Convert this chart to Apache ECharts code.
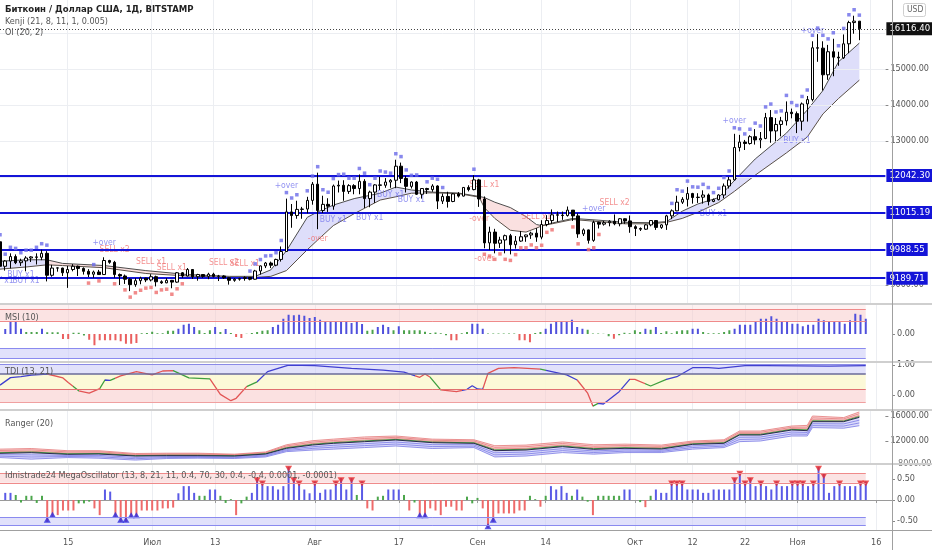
<!DOCTYPE html>
<html><head><meta charset="utf-8">
<script src="https://cdn.jsdelivr.net/npm/echarts@6.0.0/dist/echarts.min.js"></script>
<style>html,body{margin:0;padding:0;background:#fff;overflow:hidden}#chart{width:932px;height:550px}</style>
</head><body><div id="chart"></div>
<script>
// ---------- DATA ----------
const categories = [];
(function(){const s=Date.UTC(2020,5,2);for(let i=0;i<171;i++){categories.push(new Date(s+i*86400000).toISOString().slice(0,10));}})();
const xTickIdx  = [13,29,41,60,76,91,104,121,132,142,152,167];
const xTickText = ['15','Июл','13','Авг','17','Сен','14','Окт','12','22','Ноя','16'];

// [open, high, low, close]
const ohlc = [
[10200,10230,9280,9520],[9520,9690,9400,9665],[9665,9880,9460,9790],[9790,9850,9580,9620],[9620,9730,9530,9670],
[9670,9800,9380,9750],[9750,9800,9640,9780],[9780,9880,9570,9770],[9770,9980,9690,9880],[9880,9940,9100,9270],
[9270,9560,9230,9470],[9470,9490,9370,9475],[9470,9480,9250,9340],[9340,9530,8920,9430],[9430,9580,9380,9520],
[9520,9540,9250,9460],[9460,9490,9290,9380],[9380,9440,9220,9300],[9300,9400,9200,9360],[9360,9420,9280,9290],
[9290,9770,9280,9680],[9680,9700,9590,9630],[9630,9670,9200,9290],[9290,9320,9000,9250],[9250,9290,9030,9160],
[9160,9190,8830,9010],[9010,9190,8950,9120],[9120,9230,9020,9190],[9190,9200,9080,9140],[9140,9300,9100,9230],
[9230,9260,8960,9090],[9090,9130,9030,9060],[9060,9190,9050,9130],[9130,9140,8910,9080],[9080,9360,9060,9340],
[9340,9360,9200,9250],[9250,9470,9240,9430],[9430,9440,9170,9230],[9230,9310,9120,9290],[9290,9300,9200,9240],
[9240,9340,9160,9300],[9300,9340,9210,9240],[9240,9280,9110,9250],[9250,9270,9170,9200],[9200,9210,9010,9130],
[9130,9190,9090,9160],[9160,9200,9120,9180],[9180,9240,9120,9210],[9210,9220,9130,9160],[9160,9420,9150,9390],
[9390,9540,9290,9530],[9530,9640,9470,9610],[9610,9650,9470,9550],[9550,9730,9520,9710],[9710,10070,9650,9930],
[9930,11400,9920,11030],[11030,11250,10590,10930],[10930,11340,10840,11100],[11100,11170,10840,11110],[11110,11450,10990,11350],
[11350,11860,11230,11800],[11800,12120,10550,11070],[11070,11480,11000,11240],[11240,11410,11030,11190],[11190,11790,11090,11750],
[11750,11900,11570,11770],[11770,11910,11340,11600],[11600,11800,11530,11760],[11760,11800,11520,11680],[11680,12070,11520,11880],
[11880,11940,11140,11400],[11400,11620,11160,11580],[11580,11800,11280,11780],[11780,12000,11640,11770],[11770,11970,11700,11860],
[11860,11940,11700,11910],[11910,12480,11690,12300],[12300,12400,11830,11960],[11960,12030,11570,11740],[11740,11880,11680,11860],
[11860,11890,11500,11520],[11520,11690,11400,11680],[11680,11700,11530,11650],[11650,11800,11590,11750],[11750,11770,11110,11330],
[11330,11540,11250,11460],[11460,11590,11150,11320],[11320,11550,11300,11530],[11530,11580,11430,11470],[11470,11720,11460,11710],
[11710,11770,11600,11650],[11650,12050,11630,11920],[11920,11950,11170,11390],[11390,11460,10020,10170],[10170,10620,9970,10470],
[10470,10560,9880,10160],[10160,10340,10030,10250],[10250,10400,9880,10370],[10370,10420,9850,10120],[10120,10360,10010,10220],
[10220,10500,10200,10340],[10340,10400,10200,10390],[10390,10480,10280,10440],[10440,10580,10200,10330],[10330,10800,10270,10680],
[10680,10940,10630,10790],[10790,11100,10700,10950],[10950,11040,10750,10940],[10940,11040,10810,10930],[10930,11180,10900,11080],
[11080,11080,10780,10920],[10920,10990,10310,10420],[10420,10570,10360,10530],[10530,10540,10150,10240],[10240,10790,10200,10740],
[10740,10760,10570,10690],[10690,10780,10650,10730],[10730,10800,10630,10770],[10770,10960,10660,10700],[10700,10860,10630,10840],
[10840,10850,10700,10780],[10780,10930,10450,10620],[10620,10660,10360,10570],[10570,10600,10500,10550],[10550,10690,10530,10670],
[10670,10800,10630,10790],[10790,10800,10530,10600],[10600,10690,10560,10670],[10670,10950,10530,10920],[10920,11100,10830,11060],
[11060,11480,11050,11300],[11300,11440,11250,11380],[11380,11720,11180,11540],[11540,11560,11260,11430],[11430,11550,11280,11440],
[11440,11630,11260,11500],[11500,11540,11210,11320],[11320,11400,11300,11370],[11370,11520,11350,11500],[11500,11820,11410,11750],
[11750,12000,11680,11920],[11920,13200,11900,12820],[12820,13170,12710,12970],[12970,13030,12750,12930],[12930,13160,12900,13120],
[13120,13330,12900,13030],[13030,13250,12800,13070],[13070,13780,13050,13650],[13650,13860,12950,13280],[13280,13640,12990,13460],
[13460,13670,13130,13560],[13560,14100,13430,13800],[13800,13900,13630,13760],[13760,13820,13220,13550],[13550,14070,13290,14030],
[14030,14250,13540,14150],[14150,15770,14100,15590],[15590,15970,15200,15580],[15580,15770,14400,14840],[14840,15670,14700,15480],
[15480,15840,14800,15330],[15330,15480,15090,15310],[15310,15960,15280,15700],[15700,16340,15440,16290],[16290,16480,15980,16330],
[16330,16330,15800,16116.4]
];
const levelValues = [12042.30, 11015.19, 9988.55, 9189.71];
const lastPrice = 16116.40;
const priceTicks = [9000, 13000, 14000, 15000];

const kenjiIdx = [0,5,9,12,20,28,36,44,49,52,55,59,61,64,68,73,76,79,83,88,92,93,95,98,101,103,104,106,110,115,120,125,128,131,134,138,141,145,151,155,158,161,165];
const kenjiUp  = [9660,9700,9700,9600,9540,9400,9290,9240,9240,9420,9950,10880,11030,11220,11400,11550,11720,11640,11580,11555,11460,11430,11300,11150,10900,10680,10650,10720,10850,10800,10740,10730,10760,11050,11250,11430,11900,12500,13220,13860,14400,15200,15720];
const kenjiLo  = [9440,9500,9560,9540,9480,9320,9250,9210,9210,9240,9400,9980,10250,10650,10980,11360,11450,11550,11560,11540,11440,11150,10850,10520,10470,10580,10640,10700,10820,10760,10700,10700,10740,10850,11020,11290,11600,12050,12670,13110,13750,14180,14690];
const kenjiSegments = [[0,9,'bull'],[9,49,'bear'],[49,92,'bull'],[92,104,'bear'],[104,128,'flat'],[128,165,'bull']];

const upMarks = [0,1,2,3,4,5,6,7,8,9,18,48,49,50,51,52,53,54,55,56,57,59,60,61,62,63,64,65,66,67,68,69,70,71,72,73,74,75,76,77,78,79,80,82,83,84,85,91,129,130,131,132,133,134,135,136,137,138,139,140,141,142,143,144,145,146,147,148,149,150,151,152,153,154,155,156,157,158,159,160,161,162,163,164,165];
const downMarks = [17,19,22,24,25,26,27,28,29,30,31,32,33,34,35,93,94,95,96,97,98,99,100,101,102,103,104,105,106,110,111,113,114,115];

// [dayIndex, price, text, side]
const signals = [
 [0,9111,'BUY x1','b'],[5,9111,'BUY x1','b'],[4,9278,'BUY x1','b'],[20,10167,'+over','b'],
 [22,9972,'SELL x2','r'],[29,9639,'SELL x1','r'],[33,9472,'SELL x1','r'],[43,9611,'SELL x2','r'],[47,9583,'SELL x1','r'],
 [55,11750,'+over','b'],[61,10278,'-over','r'],[64,10806,'BUY x1','b'],[71,10861,'BUY x1','b'],[75,11500,'BUY x1','b'],[79,11361,'BUY x1','b'],
 [93,11778,'SELL x1','r'],[92,10833,'-over','r'],[93,9722,'-over','r'],[103,10889,'SELL x1','r'],
 [114,11111,'+over','b'],[118,11278,'SELL x2','r'],[137,10972,'BUY x1','b'],[141,13556,'+over','b'],[153,13000,'BUY x1','b'],[156,16056,'+over','b']
];

const msi = [null,0.2,0.51,0.48,0.21,0.08,0.08,0.08,0.21,0.07,
0.07,0.07,-0.2,-0.2,0.05,0.05,-0.06,-0.23,-0.45,-0.25,
-0.25,-0.25,-0.25,-0.29,-0.39,-0.39,-0.36,0.03,0.04,0.09,
0.03,0.03,0.13,0.13,0.21,0.37,0.41,0.28,0.15,0.04,
0.15,0.28,0.08,0.2,0.04,-0.12,-0.16,0.01,0.04,0.08,
0.13,0.15,0.28,0.37,0.61,0.77,0.75,0.77,0.73,0.64,
0.68,0.57,0.51,0.51,0.51,0.51,0.51,0.44,0.51,0.4,
0.13,0.17,0.28,0.37,0.28,0.15,0.31,0.15,0.15,0.15,
0.15,0.09,0.04,0.06,0.03,-0.05,-0.25,-0.25,0.03,0.08,
0.41,0.41,0.21,0.02,0.02,0.02,0.02,0.02,0.02,-0.25,
-0.25,-0.33,0.04,0.08,0.21,0.41,0.48,0.48,0.48,0.57,
0.28,0.21,0.17,0.02,0.02,0.01,-0.09,-0.19,-0.05,0.05,
0.03,0.15,0.08,0.21,0.17,0.28,0.04,0.11,0.03,0.11,
0.15,0.15,0.21,0.21,0.08,0.03,0.03,0.03,0.08,0.15,
0.21,0.37,0.37,0.37,0.48,0.61,0.61,0.71,0.61,0.48,
0.48,0.41,0.41,0.31,0.37,0.37,0.61,0.55,0.48,0.48,
0.48,0.41,0.55,0.81,0.77,0.61];

const tdiIdx = [0,2,4,6,9,12,13,15,17,19,20,21,23,26,29,31,33,36,40,42,44,45,47,49,51,55,60,67,73,77,80,81,82,84,87,89,90,91,92,93,95,98,103,108,110,112,113,114,115,118,120,121,124,127,129,132,135,137,142,146,152,158,165];
const tdiVal = [0.33,0.58,0.61,0.66,0.7,0.57,0.42,0.14,0.06,0.21,0.5,0.49,0.64,0.78,0.67,0.8,0.81,0.57,0.54,0.02,-0.19,-0.11,0.28,0.44,0.78,1.0,0.98,0.89,0.83,0.76,0.59,0.7,0.59,0.17,0.11,0.19,0.31,0.2,0.19,0.72,0.89,0.91,0.86,0.67,0.5,0.06,-0.37,-0.28,-0.3,0.11,0.52,0.52,0.3,0.52,0.61,0.91,0.91,0.89,0.98,0.98,0.97,0.96,0.98];
const tdiColorRuns = [[0,9,'b'],[9,14,'r'],[14,15,'g'],[15,19,'r'],[19,20,'g'],[20,21,'b'],[21,22,'g'],[22,33,'r'],[33,40,'g'],[40,47,'r'],[47,49,'g'],[49,79,'b'],[79,82,'r'],[82,84,'g'],[84,88,'r'],[88,92,'b'],[92,103,'r'],[103,104,'g'],[104,110,'b'],[110,113,'r'],[113,114,'g'],[114,120,'b'],[120,123,'r'],[123,127,'g'],[127,171,'b']];

const rangerIdx = [0,6,13,19,26,32,38,45,51,55,60,64,70,76,83,91,95,101,108,114,120,127,133,139,142,146,152,155,156,162,165];
const rangerUp  = [10700,10800,10450,10450,10000,10050,10050,9900,10250,11400,12050,12300,12650,12800,12300,12200,11250,11350,11850,11400,11500,11350,12000,12200,13600,13600,14400,14500,16000,15750,16650];
const rangerMid = [10027,10133,9867,9920,9600,9653,9653,9600,9920,10827,11360,11627,11893,12160,11733,11627,10453,10560,11093,10667,10827,10720,11467,11627,12960,12960,13760,13653,15093,15093,15787];
const rangerLo  = [9350,9100,9350,9250,8950,9200,9250,9200,9450,10300,10550,10700,10950,11200,10800,10950,9450,9600,10150,9900,10150,10150,10700,10950,11900,12000,12800,12800,14150,14050,14450];

const mega = [null,0.17,0.17,0.12,-0.06,0.1,0.1,-0.07,0.1,-0.52,
-0.4,-0.36,-0.25,-0.25,-0.25,-0.08,-0.08,-0.04,-0.2,-0.36,
0.25,0.2,-0.4,-0.52,-0.52,-0.41,-0.41,-0.25,-0.25,-0.25,
-0.25,-0.2,-0.2,-0.18,0.16,0.33,0.33,0.17,0.1,0.1,
0.25,0.25,0.1,-0.07,0.02,-0.36,-0.08,0.08,0.17,0.52,
0.44,0.33,0.33,0.25,0.33,0.79,0.52,0.44,0.25,0.16,
0.44,0.17,0.25,0.25,0.44,0.52,0.25,0.52,0.12,0.44,
-0.2,-0.25,0.08,0.1,0.25,0.25,0.25,0.12,-0.25,-0.06,
-0.41,-0.41,-0.2,-0.25,-0.36,-0.16,-0.16,-0.25,-0.25,0.08,
-0.08,0.05,-0.2,-0.67,-0.52,-0.32,-0.32,-0.32,-0.32,-0.25,
-0.25,0.1,0.02,-0.16,0.1,0.33,0.25,0.33,0.17,0.1,
0.25,0.08,-0.04,-0.36,0.1,0.1,0.1,0.1,0.1,0.25,
0.25,0.0,-0.05,-0.17,0.1,0.25,0.17,0.17,0.44,0.44,
0.44,0.25,0.25,0.25,0.17,0.17,0.25,0.25,0.25,0.25,
0.52,0.67,0.44,0.52,0.33,0.44,0.33,0.25,0.44,0.33,
0.33,0.44,0.44,0.44,0.33,0.44,0.79,0.62,0.17,0.33,
0.44,0.33,0.33,0.33,0.44,0.44];

// ---------- STYLE ----------
const FONT = '"Liberation Sans Narrow","DejaVu Sans Condensed",Roboto,sans-serif';
const BLUE_LVL = '#1414d8';
const C = {b:'#4040d0', r:'#e25555', g:'#3f9f3f'};
const lastIdx = ohlc.length - 1;
const grids = [
  {left:0, width:892, top:0, height:304},
  {left:0, width:892, top:305, height:56},
  {left:0, width:892, top:363, height:46},
  {left:0, width:892, top:411, height:52},
  {left:0, width:892, top:465, height:65}
];
const tickShow = (idx) => xTickIdx.indexOf(idx) >= 0;
const xAxes = grids.map((g, k) => ({
  type:'category', gridIndex:k, data:categories, boundaryGap:false,
  axisLine:{show:k===4, lineStyle:{color:'#9a9a9a'}},
  axisTick:{show:k===4, interval:tickShow, length:3, lineStyle:{color:'#9a9a9a'}},
  axisLabel:{show:k===4, interval:tickShow, color:'#555', fontSize:9, fontFamily:FONT, margin:8,
    formatter:(v, idx) => { const j = xTickIdx.indexOf(idx); return j >= 0 ? xTickText[j] : ''; }},
  splitLine:{show:true, interval:tickShow, lineStyle:{color:'#eceef2', width:1}}
}));
const yAx = (k, min, max, vals) => ({
  type:'value', gridIndex:k, position:'right', min, max,
  axisLine:{show:false}, splitLine:{show:false},
  axisTick:{show:true, customValues:vals, length:3, lineStyle:{color:'#888'}},
  axisLabel:{show:true, customValues:vals, formatter:(v)=>v.toFixed(2), color:'#555', fontSize:9, fontFamily:FONT, margin:5}
});
const yAxes = [
  yAx(0, 8472, 16917, priceTicks),
  yAx(1, -1.08, 1.16, [0]),
  yAx(2, -0.467, 1.067, [0, 1]),
  yAx(3, 8480, 16800, [12000, 16000]),
  yAx(4, -0.714, 0.833, [-0.5, 0, 0.5])
];

const c0 = categories[0], cL = categories[lastIdx];
const bandArea = (a, b, color) => [{coord:[c0, a], itemStyle:{color}}, {coord:[cL, b]}];
const bandLine = (v, color, w) => [{coord:[c0, v], lineStyle:{color, width:w||1, type:'solid'}}, {coord:[cL, v]}];

const series = [];
series.push({type:'line', xAxisIndex:0, yAxisIndex:0, data:[], z:0, silent:true,
  markLine:{silent:true, symbol:['none','none'], animation:false, label:{show:false},
    data:[9000,10000,11000,12000,13000,14000,15000,16000].map(v=>({yAxis:v, lineStyle:{color:'#eceef2', width:1, type:'solid'}}))}});
const kenjiFill = {bull:'rgba(200,200,246,0.6)', bear:'rgba(246,204,204,0.6)', flat:'rgba(214,218,208,0.5)'};
series.push({type:'custom', xAxisIndex:0, yAxisIndex:0, z:1, silent:true, data:[[0, kenjiUp[0]]],
  renderItem:(params, api) => {
    const children = [];
    kenjiSegments.forEach(([a,b,kind]) => {
      const up = [], lo = [];
      kenjiIdx.forEach((i,k) => { if (i>=a && i<=b) { up.push(api.coord([i, kenjiUp[k]])); lo.push(api.coord([i, kenjiLo[k]])); } });
      children.push({type:'polygon', shape:{points:up.concat(lo.reverse())}, style:{fill:kenjiFill[kind]}});
    });
    return {type:'group', children};
  }});
series.push({type:'line', xAxisIndex:0, yAxisIndex:0, z:2, silent:true, symbol:'none', data:kenjiIdx.map((i,k)=>[i,kenjiUp[k]]), lineStyle:{color:'#4d4d4d', width:1}});
series.push({type:'line', xAxisIndex:0, yAxisIndex:0, z:2, silent:true, symbol:'none', data:kenjiIdx.map((i,k)=>[i,kenjiLo[k]]), lineStyle:{color:'#5a5048', width:1}});
const lvlLabel = (txt, bg) => ({show:true, position:'end', distance:1, formatter:txt, backgroundColor:bg, color:'#fff', padding:[2,3,1,3], fontSize:9.5, fontFamily:FONT});
series.push({type:'line', xAxisIndex:0, yAxisIndex:0, data:[], z:3, silent:true,
  markLine:{silent:true, symbol:['none','none'], animation:false,
    data: levelValues.map(v=>({yAxis:v, lineStyle:{color:BLUE_LVL, width:2, type:'solid'}, label:lvlLabel(v.toFixed(2), BLUE_LVL)}))
      .concat([{yAxis:lastPrice, lineStyle:{color:'#444', width:1, type:[1,2]}, label:lvlLabel(lastPrice.toFixed(2), '#111')}])}});
series.push({type:'scatter', xAxisIndex:0, yAxisIndex:0, z:3, silent:true, symbolSize:2, itemStyle:{color:'rgba(0,0,0,0)'},
  data: signals.map(s => ({value:[s[0], s[1]], label:{show:true, position:'inside', formatter:s[2], color: s[3]==='b' ? '#7676ee' : '#f07474', fontSize:8.5, fontFamily:FONT}}))});
series.push({type:'candlestick', xAxisIndex:0, yAxisIndex:0, z:5, barWidth:3,
  data: ohlc.map(r => [r[0], r[3], r[2], r[1]]),
  itemStyle:{color:'#ffffff', color0:'#000000', borderColor:'#000000', borderColor0:'#000000', borderWidth:1}});
series.push({type:'scatter', xAxisIndex:0, yAxisIndex:0, z:6, silent:true, symbol:'rect', symbolSize:3.5, symbolOffset:[0,-6],
  itemStyle:{color:'#6a6ae8'}, data: upMarks.map(i => [i, ohlc[i][1]])});
series.push({type:'scatter', xAxisIndex:0, yAxisIndex:0, z:6, silent:true, symbol:'rect', symbolSize:3.5, symbolOffset:[0,6],
  itemStyle:{color:'#ee6e6e'}, data: downMarks.map(i => [i, ohlc[i][2]])});

series.push({type:'line', xAxisIndex:1, yAxisIndex:1, data:[], z:0, silent:true,
  markArea:{silent:true, data:[bandArea(0.99, 1.16, 'rgba(250,215,215,0.35)'), bandArea(0.53, 0.99, 'rgba(248,200,200,0.5)'), bandArea(-0.97, -0.57, 'rgba(205,205,248,0.6)')]},
  markLine:{silent:true, symbol:['none','none'], label:{show:false}, animation:false,
    data:[bandLine(0.99,'#ef8a8a'), bandLine(0.53,'#ef8a8a'), bandLine(-0.57,'#8a8aef'), bandLine(-0.97,'#8a8aef')]}});
series.push({type:'bar', xAxisIndex:1, yAxisIndex:1, z:2, silent:true, barWidth:2, data:msi,
  itemStyle:{color:(p)=> p.value >= 0.2 ? '#5050dc' : (p.value <= -0.12 ? '#ea5f5f' : '#4ca24c')}});

series.push({type:'line', xAxisIndex:2, yAxisIndex:2, data:[], z:0, silent:true,
  markArea:{silent:true, data:[bandArea(0.7, 1.03, 'rgba(205,205,248,0.6)'), bandArea(0.2, 0.7, 'rgba(252,248,212,0.9)'), bandArea(-0.23, 0.2, 'rgba(248,205,205,0.6)')]},
  markLine:{silent:true, symbol:['none','none'], label:{show:false}, animation:false,
    data:[bandLine(1.03,'#8a8ae6'), bandLine(0.7,'#6a6a9a', 1.5), bandLine(0.2,'#e07070'), bandLine(-0.23,'#f0a0a0')]}});
series.push({type:'line', xAxisIndex:2, yAxisIndex:2, z:3, silent:true, symbol:'none', data:tdiIdx.map((i,k)=>[i, tdiVal[k]]), lineStyle:{width:1.3}});
const tdiSeriesIndex = series.length - 1;

series.push({type:'custom', xAxisIndex:3, yAxisIndex:3, z:2, silent:true, data:[[0, rangerMid[0]]],
  renderItem:(params, api) => {
    const lvl = (f) => rangerIdx.map((i,k) => api.coord([i, f >= 0 ? rangerMid[k] + (rangerUp[k]-rangerMid[k])*f : rangerMid[k] + (rangerMid[k]-rangerLo[k])*f]));
    const up = lvl(1), mid = lvl(0), lo = lvl(-1);
    const ch = [
      {type:'polygon', shape:{points:up.concat(mid.slice().reverse())}, style:{fill:'rgba(245,160,160,0.4)'}},
      {type:'polygon', shape:{points:mid.concat(lo.slice().reverse())}, style:{fill:'rgba(165,165,245,0.4)'}}
    ];
    [1, 0.67, 0.34].forEach(f => ch.push({type:'polyline', shape:{points:lvl(f)}, style:{stroke:'#e47a7a', lineWidth:0.8, fill:null}}));
    [-0.34, -0.67, -1].forEach(f => ch.push({type:'polyline', shape:{points:lvl(f)}, style:{stroke:'#7a7ae4', lineWidth:0.8, fill:null}}));
    ch.push({type:'polyline', shape:{points:lvl(0.15)}, style:{stroke:'#3f9f3f', lineWidth:1, fill:null}});
    ch.push({type:'polyline', shape:{points:mid}, style:{stroke:'#2a2a50', lineWidth:1, fill:null}});
    return {type:'group', children:ch};
  }});

series.push({type:'line', xAxisIndex:4, yAxisIndex:4, data:[], z:0, silent:true,
  markArea:{silent:true, data:[bandArea(0.41, 0.635, 'rgba(248,200,200,0.5)'), bandArea(-0.61, -0.41, 'rgba(205,205,248,0.6)')]},
  markLine:{silent:true, symbol:['none','none'], label:{show:false}, animation:false,
    data:[bandLine(0.635,'#ef8a8a'), bandLine(0.41,'#ef8a8a'), bandLine(-0.41,'#8a8aef'), bandLine(-0.61,'#8a8aef')]}});
series.push({type:'bar', xAxisIndex:4, yAxisIndex:4, z:2, silent:true, barWidth:2, data:mega,
  itemStyle:{color:(p)=> p.value >= 0.15 ? '#5a5ae6' : (p.value <= -0.15 ? '#ee6a6a' : '#4ca64c')}});
series.push({type:'scatter', xAxisIndex:4, yAxisIndex:4, z:4, silent:true, symbol:'triangle', symbolRotate:180, symbolSize:[7,6], symbolOffset:[0,2],
  itemStyle:{color:'#e82a2a'}, data: mega.map((v,i)=>[i,v]).filter(d => d[1] !== null && d[1] >= 0.44)});
series.push({type:'scatter', xAxisIndex:4, yAxisIndex:4, z:4, silent:true, symbol:'triangle', symbolSize:[7,6], symbolOffset:[0,-2],
  itemStyle:{color:'#2a2ae0'}, data: mega.map((v,i)=>[i,v]).filter(d => d[1] !== null && d[1] <= -0.4)});

const txt = (x, y, t, extra, z) => ({type:'text', left:x, top:y, z:z||50, silent:true, style:Object.assign({text:t, fill:'#555', font:'9px '+FONT}, extra||{})});
const sep = (y) => ({type:'rect', left:0, top:y, z:40, silent:true, shape:{width:932, height:2}, style:{fill:'#cfcfcf'}});

const option = {
  animation:false,
  backgroundColor:'#ffffff',
  grid:grids, xAxis:xAxes, yAxis:yAxes, series,
  visualMap:[{type:'piecewise', show:false, seriesIndex:tdiSeriesIndex, dimension:0,
    pieces: tdiColorRuns.map(([a,b,c]) => ({gte:a, lt:b, color:C[c]}))}],
  graphic:[
    txt(898, 459, '8000.00', {fill:'#777'}, 30),
    sep(303), sep(361), sep(409), sep(463),
    {type:'rect', left:0, top:530, z:40, silent:true, shape:{width:932, height:1}, style:{fill:'#a0a0a0'}},
    {type:'rect', left:892, top:0, z:40, silent:true, shape:{width:1, height:550}, style:{fill:'#a0a0a0'}},
    {type:'rect', left:903, top:3, z:41, silent:true, shape:{width:22, height:13, r:2}, style:{fill:'#fff', stroke:'#cfcfcf', lineWidth:1}},
    txt(907, 5, 'USD', {fill:'#666', font:'8.5px '+FONT}),
    txt(5, 5, 'Биткоин / Доллар США, 1Д, BITSTAMP', {fill:'#222', font:'600 9.5px '+FONT}),
    txt(5, 17, 'Kenji (21, 8, 11, 1, 0.005)'),
    txt(5, 28, 'OI (20, 2)'),
    txt(5, 313, 'MSI (10)'),
    txt(5, 367, 'TDI (13, 21)'),
    txt(5, 419, 'Ranger (20)'),
    txt(5, 471, 'Idnistrade24 MegaOscillator (13, 8, 21, 11, 0.4, 70, 30, 0.4, -0.4, 0.0001, -0.0001)')
  ]
};
const chart = echarts.init(document.getElementById('chart'), null, {renderer:'canvas'});
chart.setOption(option);
</script></body></html>
